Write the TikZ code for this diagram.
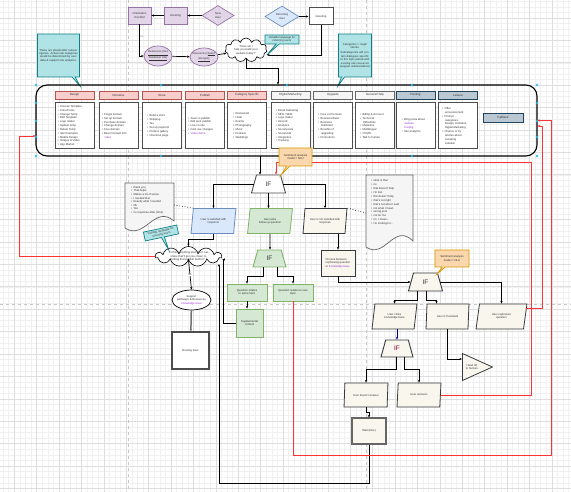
\documentclass[tikz,border=0pt]{standalone}
\usepackage{fontspec}
\setmainfont{Liberation Sans}
\usetikzlibrary{shapes.geometric, shapes.symbols, shapes.callouts, positioning, arrows.meta}
\definecolor{purf}{HTML}{E1D5E7}
\definecolor{purd}{HTML}{9673A6}
\definecolor{tealf}{HTML}{B0E3E6}
\definecolor{teald}{HTML}{0E8088}
\definecolor{bluef}{HTML}{DAE8FC}
\definecolor{blued}{HTML}{6C8EBF}
\definecolor{greenf}{HTML}{D5E8D4}
\definecolor{greend}{HTML}{82B366}
\definecolor{orngf}{HTML}{FAD7AC}
\definecolor{orngd}{HTML}{D79B00}
\definecolor{redf}{HTML}{F8CECC}
\definecolor{redd}{HTML}{B85450}
\definecolor{greyf}{HTML}{F5F5F5}
\definecolor{greyd}{HTML}{666666}
\definecolor{bgf}{HTML}{BAC8D3}
\definecolor{bgd}{HTML}{23445D}
\definecolor{beigef}{HTML}{F9F7ED}
\definecolor{beiged}{HTML}{36393D}
\definecolor{boxd}{HTML}{4D4D4D}
\definecolor{lnk}{HTML}{9933CC}
\definecolor{txt}{HTML}{333333}
\definecolor{redc}{HTML}{FF3333}
\definecolor{hcol}{HTML}{29B6F2}
\definecolor{gridmaj}{HTML}{DEDEDE}
\definecolor{gridmin}{HTML}{F1F1F1}
\newcommand\itm{\textbullet\hspace{1.2pt}}
\newcommand\lnk[1]{\textcolor{lnk}{#1}}

\begin{document}
\begin{tikzpicture}[x=1pt, y=-1pt, ->, >={Stealth[length=2.6pt,width=2.2pt]}, line width=0.7pt,
    every node/.style={font=\fontsize{2.8}{3.4}\selectfont, text=txt, align=center, inner sep=0.5pt},
    purp/.style={draw=purd, fill=purf, line width=0.7pt},
    teal/.style={rectangle callout, draw=teald, fill=tealf, line width=0.7pt, callout pointer width=3pt, inner sep=1pt},
    orng/.style={rectangle callout, draw=orngd, fill=orngf, line width=0.7pt, callout pointer width=3pt, inner sep=1pt},
    hdr/.style={draw, minimum width=39pt, minimum height=8pt, inner sep=0pt, line width=0.8pt, font=\fontsize{3}{3.5}\selectfont},
    hred/.style={hdr, fill=redf, draw=redd},
    hgrey/.style={hdr, fill=greyf, draw=greyd},
    hblue/.style={hdr, fill=bgf, draw=bgd},
    cbox/.style={draw=boxd, fill=white, line width=0.9pt, minimum width=39pt, minimum height=46pt, inner sep=0pt},
    lst/.style={anchor=west, align=left, inner sep=0pt, font=\fontsize{2.8}{3.85}\selectfont},
    cloudy/.style={cloud, cloud puffs=11, cloud ignores aspect, draw=black, fill=white, line width=0.6pt, inner sep=0pt},
    ifbox/.style={trapezium, trapezium left angle=75, trapezium right angle=75, trapezium stretches=true, draw=boxd, line width=0.9pt, minimum width=34pt, minimum height=18pt, inner sep=0pt, font=\fontsize{6.5}{7}\selectfont},
    para/.style={trapezium, trapezium left angle=76, trapezium right angle=104, trapezium stretches=true, minimum width=45pt, minimum height=25pt, inner sep=0pt, line width=0.8pt},
    grn/.style={draw=greend, fill=greenf, line width=0.8pt, inner sep=0pt},
    bge/.style={draw=beiged, fill=beigef, line width=0.8pt, inner sep=0pt},
    docsty/.style={-, draw=greyd, fill=greyf, line width=0.7pt},
    redline/.style={draw=redc, line width=0.8pt},
    handle/.style={-, draw=hcol, line width=0.5pt}]

    \useasboundingbox (0,0) rectangle (571,492);
    \fill[white] (0,0) rectangle (571,492);
    \foreach \i in {0,...,101} \draw[-, gridmin, line width=0.4pt] ({3.0+5.6*\i},0) -- ({3.0+5.6*\i},492);
    \foreach \i in {0,...,87} \draw[-, gridmin, line width=0.4pt] (0,{1.2+5.6*\i}) -- (571,{1.2+5.6*\i});
    \foreach \i in {0,...,24} \draw[-, gridmaj, line width=0.6pt] ({14.2+22.4*\i},0) -- ({14.2+22.4*\i},492);
    \foreach \i in {0,...,21} \draw[-, gridmaj, line width=0.6pt] (0,{18+22.4*\i}) -- (571,{18+22.4*\i});
    \draw[-, dashed, draw=black!22, line width=0.6pt] (128,0) -- (128,492) (366,0) -- (366,492) (0,304) -- (571,304);

    \node[purp, minimum width=23pt, minimum height=17pt] (orient) at (139.5,15.5) {Orientation\\checklist};
    \node[purp, minimum width=23pt, minimum height=17pt] (greetnew) at (175.5,15.5) {Greeting};
    \node[purp, diamond, aspect=1.7, minimum width=32pt, minimum height=20pt, inner sep=0pt] (newuser) at (218,15.5) {New\\User};
    \node[diamond, draw=blued, fill=bluef, line width=0.7pt, aspect=1.7, minimum width=34pt, minimum height=21pt, inner sep=0pt] (retuser) at (282,16.5) {Returning\\User};
    \node[draw=boxd, fill=white, line width=1pt, minimum width=24pt, minimum height=17pt] (greetret) at (321,16.5) {Greeting};
    \node[purp, ellipse, minimum width=28pt, minimum height=20pt, inner sep=-2pt] (resstart) at (158,56) {\underline{Resources (Get}\\\underline{Started w/ site)}};
    \node[purp, ellipse, minimum width=28pt, minimum height=18pt, inner sep=-2pt] (restype) at (204,57) {Resources (\underline{Select}\\\underline{site type)}};
    \node[cloudy, minimum width=42pt, minimum height=24pt] (askhelp) at (246,50) {};
    \node (askhelptxt) at (askhelp) {``How can I\\help you build your\\website today?''};
    \node[teal, minimum width=34pt, minimum height=9pt, callout absolute pointer={(267,55)}] (varlang) at (282,39.5) {Variable language for\\returning users};
    \node[teal, text width=31pt, minimum height=43pt, callout absolute pointer={(338,86)}] (catnote) at (355,55.5) {Categories = rough\\intents.\\[2pt] Subcategories will contain dialogues specific to the topic paired with existing site resources (support articles/videos)};
    \node[teal, text width=40pt, minimum height=43pt, callout absolute pointer={(80,86)}] (subnote) at (58.5,55.5) {These are placeholder subcategories. Actual sub categories would be determined by user data \& support site analytics.};

    \draw (greetnew) -- (orient);
    \draw (newuser) -- (greetnew);
    \draw (retuser) -- (greetret);
    \draw (orient) |- node[pos=0.2, right, text=black!45] {no} (resstart);
    \draw (resstart) -- (restype);
    \draw (restype) -- (askhelp);
    \draw (greetret.south) |- ([yshift=-5pt]askhelp.east);

    \node[draw=black, line width=1.1pt, rounded corners=11pt, minimum width=501pt, minimum height=71pt] (bar) at (286.5,120.5) {};
    \draw (askhelp.south) -- ++(0,10) -| ([xshift=-8.5pt]bar.north);
    \foreach \cx/\nm/\ttl/\sty in {74.5/design/Design/hred, 118.5/domains/Domains/hred, 162/store/Store/hred, 205/publish/Publish/hred, 247/catspec/Category Specific/hred, 290.5/digmark/Digital Marketing/hgrey, 333/upgrade/Upgrade/hgrey, 375/genhelp/General Help/hgrey, 415.5/hosting/Hosting/hblue, 458/leisure/Leisure/hblue}
    {
        \node[\sty] (h\nm) at (\cx,95) {\ttl};
        \node[cbox, below=3pt of h\nm] (c\nm) {};
    }
    \node[lst] (ldesign) at ([xshift=3pt]cdesign.west) {\itm Choose Template\\\itm Color/Fonts\\\itm Change Temp\\\itm Edit Template\\\itm Logo maker\\\itm Update temp\\\itm Delete Temp\\\itm Site Examples\\\itm Mobile Design\\\itm Images \& Video\\\itm App Market};
    \node[lst] (ldomains) at ([xshift=3pt]cdomains.west) {\itm Forgot domain\\\itm Set up domain\\\itm Purchase domain\\\itm Change domain\\\itm Free domain\\\itm Basic Domain info\\\hspace*{2.6pt}\lnk{video}};
    \node[lst] (lstore) at ([xshift=5pt]cstore.west) {\itm Build a store\\\itm Shipping\\\itm Tax\\\itm Set up payment\\\itm Product gallery\\\itm Checkout page};
    \node[lst] (lpublish) at ([xshift=3pt]cpublish.west) {\itm Save vs publish\\\itm Edit post publish\\\itm Live on site\\\itm Cant see changes\\\itm \lnk{Video demo}};
    \node[lst] (lcatspec) at ([xshift=6pt]ccatspec.west) {\itm Restaurant\\\itm Hotel\\\itm Events\\\itm Photography\\\itm Music\\\itm Podcast\\\itm Weddings};
    \node[lst] (ldigmark) at ([xshift=5pt]cdigmark.west) {\itm Email marketing\\\itm SEO / SEM\\\itm Logo maker\\\itm Ascend\\\itm Analytics\\\itm Social posts\\\itm Social Ads\\\itm Integration\\\itm Tracking};
    \node[lst] (lupgrade) at ([xshift=5pt]cupgrade.west) {\itm Free vs Premium\\\itm Business Basic\\\itm Business\\\hspace*{2.6pt}Unlimited\\\itm Benefits of\\\hspace*{2.6pt}upgrading\\\itm Promotions};
    \node[lst] (lgenhelp) at ([xshift=5pt]cgenhelp.west) {\itm Billing \& Account\\\itm Technical\\\hspace*{2.6pt}Difficulties\\\itm Multisites\\\itm Multilingual\\\itm COVID\\\itm Talk to human};
    \node[lst] (lhosting) at ([xshift=6pt]chosting.west) {\itm Blog posts about\\\hspace*{2.6pt}\lnk{website}\\\hspace*{2.6pt}\lnk{hosting}\\\itm Site analytics};
    \node[lst] (lleisure) at ([xshift=4pt]cleisure.west) {\itm Offer\\\hspace*{2.6pt}announcement\\\itm Prompt\\\hspace*{2.6pt}categories:\\\hspace*{2.6pt}Design, Domains,\\\hspace*{2.6pt}Digital Marketing\\\itm Chance to try\\\hspace*{2.6pt}articles about\\\hspace*{2.6pt}escaping\\\hspace*{2.6pt}isolation};
    \node[hblue, minimum width=40pt, minimum height=9pt] (fallback) at (503,117.5) {Fallback};
    \foreach \hx/\hy in {36/85, 161/85, 287/85, 412/85, 537/85, 36/103, 36/121, 36/137, 537/103, 537/121, 537/137, 36/156, 161/156, 287/156, 412/156, 537/156}
        \draw[handle] ({\hx-1.3},{\hy-1.3}) -- ({\hx+1.3},{\hy+1.3}) ({\hx-1.3},{\hy+1.3}) -- ({\hx+1.3},{\hy-1.3});

    \node[ifbox, fill=white] (ifsent) at (268.5,184) {IF};
    \node[para, fill=bluef, draw=blued] (sat) at (213.5,221) {User is satisfied with\\response};
    \node[para, fill=greenf, draw=greend] (followup) at (270,221) {User asks\\follow up question};
    \node[para, fill=beigef, draw=beiged, minimum width=44pt] (notsat) at (325,221) {User is not satisfied with\\response};
    \coordinate (barout) at (260,156);
    \draw (barout) -- (barout |- ifsent.north);
    \draw (ifsent.west) -| (sat.north);
    \draw (ifsent.south) -- (ifsent.south |- followup.north);
    \draw (ifsent.east) -| (notsat.north);

    \draw[docsty] (125,183) -- (174,183) -- (174,221) .. controls (154,204) and (145,241) .. (125,228) -- cycle;
    \node[lst, anchor=north west, font=\fontsize{2.8}{3.6}\selectfont] (thanksl) at (131,186) {\itm thank you\\\itm That helps\\\itm Makes a lot of sense\\\itm I needed that\\\itm Exactly what I needed\\\itm Ok\\\itm Yes\\\itm no response after (time)};
    \coordinate (thanksr) at (174,205);
    \draw[-, dotted] (thanksr) -- (sat.top left corner);
    \draw[docsty] (366,175) -- (413,175) -- (413,241) .. controls (394,222) and (385,260) .. (366,247) -- cycle;
    \node[lst, anchor=north west, font=\fontsize{2.8}{3.95}\selectfont] (complaintl) at (371,179) {\itm what is that\\\itm no\\\itm that doesn't help\\\itm I'm lost\\\itm this doesn't help\\\itm that's not right\\\itm that's not what I said\\\itm not what I mean\\\itm wrong post\\\itm not for me\\\itm no, I mean...\\\itm I'm looking for...};
    \coordinate (complaintr) at (366,213);
    \draw[-, dotted] (notsat.top right corner) -- (complaintr);

    \node[ifbox, fill=greenf, draw=greend, minimum width=33pt, minimum height=17pt] (iftopic) at (269.5,258.5) {IF};
    \node[grn, minimum width=40pt, minimum height=17pt] (sametopic) at (247,292.5) {Question relates\\to same topic};
    \node[grn, minimum width=40pt, minimum height=17pt] (newtopic) at (293,292.5) {Question relates to new\\topic};
    \node[grn, minimum width=27pt, minimum height=28pt] (supplement) at (249.5,323) {Supplemental\\content};
    \draw (followup) -- (followup |- iftopic.north);
    \draw ([xshift=-6pt]iftopic.south) -- ++(0,9) -| (sametopic.north);
    \draw ([xshift=8pt]iftopic.south) -- ++(0,9) -| (newtopic.north);
    \draw (sametopic.south) -- (sametopic.south |- supplement.north);

    \node[cloudy, minimum width=66pt, minimum height=20pt] (anyelse) at (188.5,256.5) {};
    \node (anyelsetxt) at (anyelse) {``Is there anything else that I can\\share that'll get you closer to\\hitting that publish button?''};
    \node[teal, rotate=12, minimum width=34pt, minimum height=9pt, callout relative pointer={(3pt,-13.5pt)}] (varlang2) at (161,233) {Variable language for\\returning users};
    \node[draw=black, fill=white, ellipse, minimum width=39pt, minimum height=20pt, inner sep=-1.5pt, line width=0.7pt] (support) at (191.5,300) {Support\\pathways \& Resources\\\lnk{knowledge base}};
    \node[draw=boxd, fill=white, line width=1.1pt, minimum width=37pt, minimum height=37pt] (routing) at (190.5,350.5) {Routing lines};
    \draw (sat.south) -- ++(0,5) -| (anyelse.north);
    \draw (anyelse.south) -- node[fill=white, inner sep=0.3pt] {no} (support.north);
    \draw[draw=black!55, line width=1.5pt] (support) -- (routing);
    \draw (supplement.west) -- ++(-12,0) |- ([yshift=-3pt]anyelse.east);

    \node[bge, align=left, minimum width=34pt, minimum height=26pt] (choose) at (338,263) {Choose between\\rephrasing question\\or \lnk{Knowledge base}};
    \node[ifbox, fill=beigef, draw=beiged] (ifchoice) at (425.5,282) {IF};
    \node[para, fill=beigef, draw=beiged] (clickkb) at (394.5,316.5) {User clicks\\knowledge base};
    \node[para, fill=beigef, draw=beiged, minimum width=43pt] (frustrated) at (447.5,316.5) {User is frustrated};
    \node[para, fill=beigef, draw=beiged, minimum width=51pt] (rephrase) at (501.5,316.5) {User rephrases\\question};
    \node[isosceles triangle, isosceles triangle stretches, draw=beiged, fill=beigef, line width=0.8pt, minimum width=27pt, minimum height=30pt, inner sep=0pt, anchor=lower side] (handoff) at (462,367) {Hand off\\to human};
    \node[ifbox, fill=beigef, draw=beiged, text=purple!60!black, minimum width=32pt, minimum height=17pt] (ifanswer) at (397,348.5) {IF};
    \node[para, fill=beigef, draw=beiged, minimum width=44pt, minimum height=24pt] (noanswer) at (366,395) {User doesn't answer};
    \node[para, fill=beigef, draw=beiged, minimum width=44pt, minimum height=24pt] (answers) at (419,395) {User answers};
    \node[bge, draw=greyd, line width=1.1pt, minimum width=34pt, minimum height=26pt] (waittime) at (369,431) {Wait (time)};
    \draw (notsat.south -| choose.north) -- (choose.north);
    \draw (choose.south) |- (ifchoice.west);
    \draw (ifchoice.east) -| (rephrase.north);
    \draw ([xshift=-8pt]ifchoice.south) -- ++(0,9) -| (clickkb.north);
    \draw ([xshift=1pt]ifchoice.south) -- ++(0,9) -| ([xshift=-11pt]frustrated.north);
    \draw[draw=blue!50!black] (clickkb.south -| ifanswer.north) -- (ifanswer.north);
    \draw (frustrated.south) |- ([yshift=8pt]handoff.lower side);
    \draw ([xshift=-1pt]ifanswer.south) -- ++(0,12) -| (noanswer.north);
    \draw ([xshift=7pt]ifanswer.south) -- ++(0,12) -| (answers.north);
    \draw (noanswer.south) -- ++(0,5) -| (waittime.north);
    \coordinate (loopbot) at (219,483);
    \coordinate (elsein) at (219,264);
    \draw (waittime.south) |- (loopbot) -- (elsein);

    \coordinate (redleft) at (19,136);
    \draw[redline] (anyelse.west) -| (redleft) -- (redleft -| bar.west);
    \coordinate (redtop) at (531,162);
    \draw[redline] (answers.east) -| (redtop) -| ([xshift=7.5pt]ifsent.north);
    \coordinate (redmid) at (542,126);
    \draw[redline] ([yshift=8pt]rephrase.east) -| (redmid) -- (redmid -| bar.east);
    \coordinate (redbot) at (551,455);
    \draw[redline] (newtopic.south) |- (redbot) |- (bar.east);

    \node[orng, minimum width=33pt, minimum height=18pt, callout absolute pointer={(281,175)}] (sentnlu) at (295.5,157) {Sentiment analysis\\model = NLU};
    \node[orng, minimum width=34pt, minimum height=17pt, callout absolute pointer={(437,274)}] (sentnlu2) at (452,258.5) {Sentiment analysis\\model = NLU};
\end{tikzpicture}
\end{document}
